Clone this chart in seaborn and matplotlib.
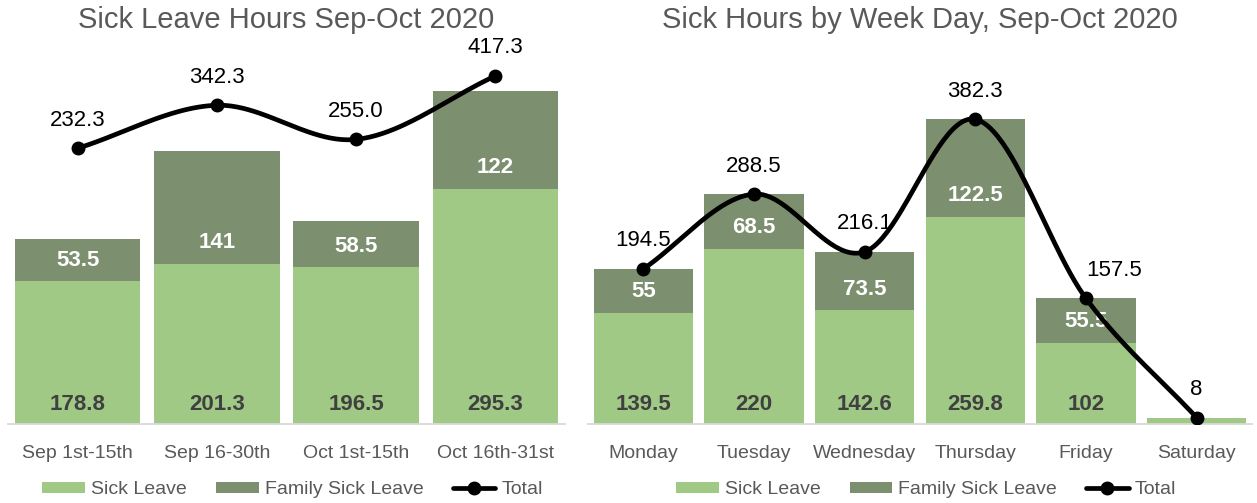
import numpy as np
import pandas as pd
import matplotlib
matplotlib.use("Agg")
import matplotlib.pyplot as plt
import seaborn as sns
from matplotlib.patches import Patch
from matplotlib.lines import Line2D

# ---------------- data ----------------
periods = ["Sep 1st-15th", "Sep 16-30th", "Oct 1st-15th", "Oct 16th-31st"]
period_sick = [178.8, 201.3, 196.5, 295.3]
period_family = [53.5, 141, 58.5, 122]
period_total = [232.3, 342.3, 255.0, 417.3]
period_total_labels = ["232.3", "342.3", "255.0", "417.3"]

days = ["Monday", "Tuesday", "Wednesday", "Thursday", "Friday", "Saturday"]
day_sick = [139.5, 220, 142.6, 259.8, 102, 8]
day_family = [55, 68.5, 73.5, 122.5, 55.5, 0]
day_total = [194.5, 288.5, 216.1, 382.3, 157.5, 8]
day_total_labels = ["194.5", "288.5", "216.1", "382.3", "157.5", "8"]

title_left = "Sick Leave Hours Sep-Oct 2020"
title_right = "Sick Hours by Week Day, Sep-Oct 2020"
legend_labels = ["Sick Leave", "Family Sick Leave", "Total"]

# ---------------- style ----------------
LIGHT = "#A0C986"
DARK = "#7C8F6E"
GRAY_TXT = "#595959"
AXIS_CLR = "#D9D9D9"
W, H = 1257, 503

sns.set_theme(style="white")
plt.rcParams["font.family"] = ["Liberation Sans", "DejaVu Sans"]


def smooth(y, n=50):
    """Catmull-Rom curve through the data points (Excel-like smoothed line)."""
    y = np.asarray(y, float)
    x = np.arange(len(y), dtype=float)
    P = np.column_stack([x, y])
    ext = np.vstack([2 * P[0] - P[1], P, 2 * P[-1] - P[-2]])
    out = []
    t = np.linspace(0, 1, n)[:, None]
    for i in range(len(P) - 1):
        p0, p1, p2, p3 = ext[i], ext[i + 1], ext[i + 2], ext[i + 3]
        seg = 0.5 * ((2 * p1) + (-p0 + p2) * t
                     + (2 * p0 - 5 * p1 + 4 * p2 - p3) * t ** 2
                     + (-p0 + 3 * p1 - 3 * p2 + p3) * t ** 3)
        out.append(seg if i == 0 else seg[1:])
    return np.vstack(out)


fig = plt.figure(figsize=(W / 100, H / 100), dpi=100)

base_px, top_px = 424, 60
bottom = (H - base_px) / H
height = (base_px - top_px) / H
px_per_unit = 0.797
ymax = (base_px - top_px) / px_per_unit

ax1 = fig.add_axes([8 / W, bottom, (565 - 8) / W, height])
ax2 = fig.add_axes([588 / W, bottom, (1252 - 588) / W, height])


def draw_bars(ax, cats, sick, family, total):
    df = pd.DataFrame({"cat": cats, "sick": sick, "family": family, "total": total})
    sns.barplot(data=df, x="cat", y="total", order=cats, color=DARK,
                saturation=1, width=0.9, ax=ax, zorder=1,
                edgecolor="none", linewidth=0)
    sns.barplot(data=df, x="cat", y="sick", order=cats, color=LIGHT,
                saturation=1, width=0.9, ax=ax, zorder=1,
                edgecolor="none", linewidth=0)
    for i, (s, f) in enumerate(zip(sick, family)):
        if f > 0:
            ax.annotate(f"{f:g}", (i, s), xytext=(0, 21), textcoords="offset pixels",
                        ha="center", va="center", color="white", fontsize=16,
                        fontweight="bold", zorder=3)
        if s > 20:
            ax.annotate(f"{s:g}", (i, 0), xytext=(0, 19), textcoords="offset pixels",
                        ha="center", va="center", color="#404040", fontsize=16,
                        fontweight="bold", zorder=3)
    ax.set_xlim(-0.5, len(cats) - 0.5)
    ax.set_ylim(0, ymax)
    ax.set_xlabel("")
    ax.set_ylabel("")
    ax.set_yticks([])
    for side in ["top", "left", "right"]:
        ax.spines[side].set_visible(False)
    ax.spines["bottom"].set_color(AXIS_CLR)
    ax.spines["bottom"].set_linewidth(1.3)
    ax.tick_params(axis="x", length=0, pad=15, labelsize=14, labelcolor=GRAY_TXT)
    ax.patch.set_alpha(0)


def draw_line(ax, total, labels, dxs, dy=28):
    curve = smooth(total)
    ax.plot(curve[:, 0], curve[:, 1], color="black", lw=3.4, zorder=4,
            solid_capstyle="round")
    ax.plot(np.arange(len(total)), total, "o", color="black", ms=9, zorder=5)
    for i, (v, lab) in enumerate(zip(total, labels)):
        ax.annotate(lab, (i, v), xytext=(dxs[i], dy), textcoords="offset pixels",
                    ha="center", va="center", fontsize=16, color="black", zorder=6)


# ---- left panel ----
draw_bars(ax1, periods, period_sick, period_family, period_total)
ax1t = ax1.twinx()
sec_slope = 0.391
sec_zero_px = 239.1
ax1t.set_ylim((sec_zero_px - base_px) / sec_slope, (sec_zero_px - top_px) / sec_slope)
ax1t.set_xlim(-0.5, len(periods) - 0.5)
draw_line(ax1t, period_total, period_total_labels, [0, 0, 0, 0])
ax1t.set_yticks([])
for s in ax1t.spines.values():
    s.set_visible(False)
ax1t.patch.set_alpha(0)

# ---- right panel ----
draw_bars(ax2, days, day_sick, day_family, day_total)
draw_line(ax2, day_total, day_total_labels, [0, 0, 0, 0, 28, 0])

# ---- titles ----
for ax, t in [(ax1, title_left), (ax2, title_right)]:
    pos = ax.get_position()
    fig.text((pos.x0 + pos.x1) / 2, 1 - 20 / H, t, ha="center", va="center",
             fontsize=21, color=GRAY_TXT)

# ---- legends ----
handles = [Patch(facecolor=LIGHT, edgecolor="none"),
           Patch(facecolor=DARK, edgecolor="none"),
           Line2D([0], [0], color="black", lw=3.4, marker="o", ms=9)]
for ax in [ax1, ax2]:
    pos = ax.get_position()
    fig.legend(handles, legend_labels, loc="center",
               bbox_to_anchor=((pos.x0 + pos.x1) / 2 + 6 / W, 1 - 490 / H),
               ncol=3, frameon=False, fontsize=14, handlelength=2.2,
               handleheight=0.5, handletextpad=0.3, columnspacing=1.5,
               labelcolor=GRAY_TXT)

fig.savefig("out.png", dpi=100)
